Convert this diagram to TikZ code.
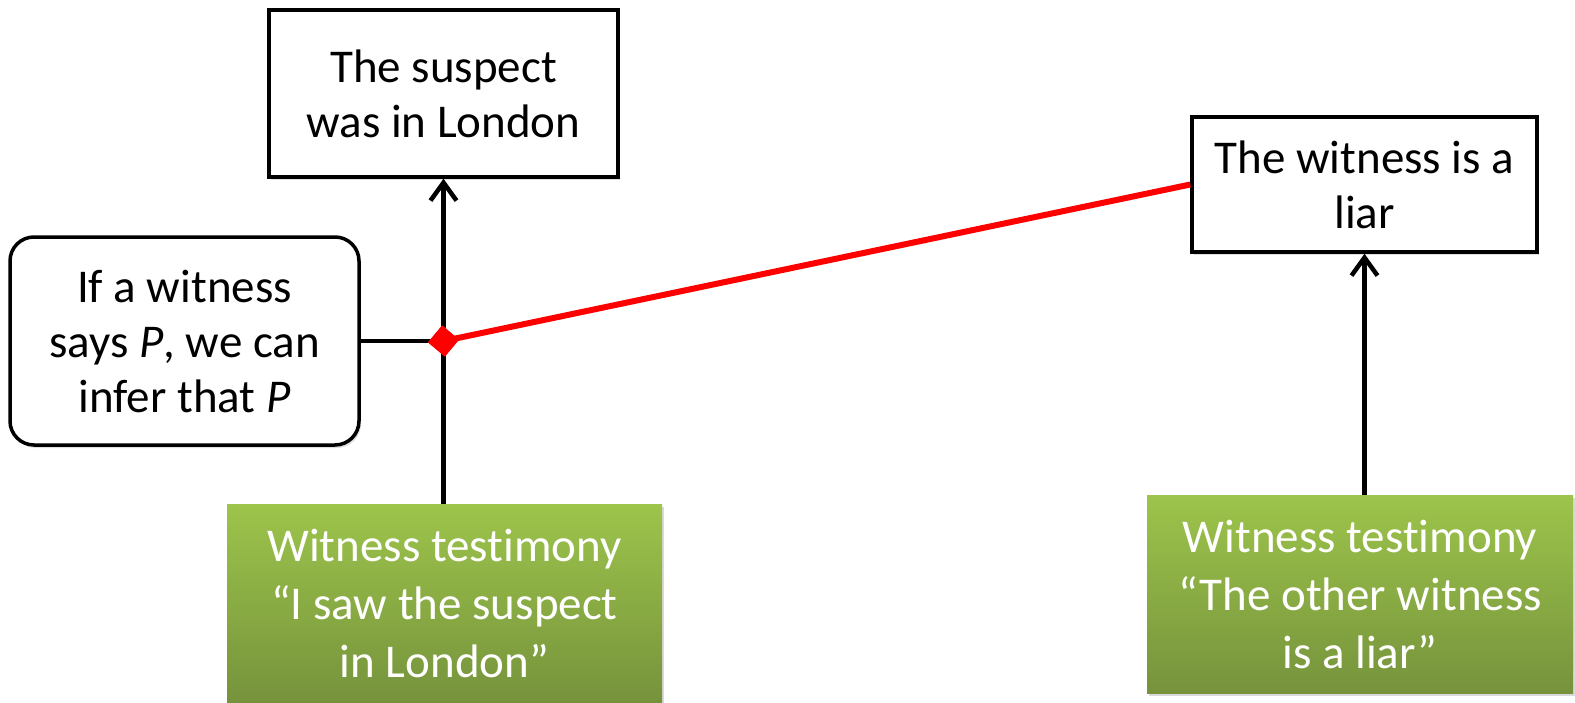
\documentclass[tikz,border=0pt]{standalone}
\usepackage{fontspec}
\setmainfont{Carlito}[Ligatures=NoCommon]
\usetikzlibrary{positioning, arrows.meta, shapes.geometric, shadows}

\definecolor{grasstop}{HTML}{9DC44B}
\definecolor{grassbot}{HTML}{76933C}
\definecolor{attackred}{HTML}{FF0000}

\begin{document}
\begin{tikzpicture}[
        x=1pt, y=-1pt,
        % Define common styles for the nodes and text
        claim/.style={draw, rectangle, line width=3.5pt, align=center, fill=white, inner sep=0pt,
            font=\fontsize{47}{55}\selectfont,
            drop shadow={shadow xshift=2pt, shadow yshift=-3pt, opacity=0.25}},
        rule/.style={claim, rounded corners=24pt},
        evidence/.style={rectangle, align=center, inner sep=0pt, text=white,
            top color=grasstop, bottom color=grassbot,
            font=\fontsize{47}{58}\selectfont,
            drop shadow={shadow xshift=2pt, shadow yshift=-3pt, opacity=0.3}},
        arrow/.style={-{Straight Barb[length=18pt, width=26pt]}, line width=4.5pt},
        attack/.style={attackred, line width=6pt},
        joint/.style={rectangle, fill=attackred, minimum size=22pt, inner sep=0pt, rotate=50}
    ]
    \useasboundingbox (0,0) rectangle (1575,702);

        % Define the nodes
        \node[claim, minimum width=349pt, minimum height=167pt] (suspect) at (443.5,93.5)
            {The suspect\\ was in London};

        \node[claim, minimum width=345pt, minimum height=135pt] (liar) at (1364.5,184.5)
            {The witness is a\\ liar};

        \node[rule, minimum width=349pt, minimum height=208pt] (warrant) at (184.5,341)
            {If a witness\\ says \textit{P}, we can\\ infer that \textit{P}};

        \node[evidence, minimum width=435pt, minimum height=198pt] (testA) at (444.5,603)
            {Witness testimony\\ “I saw the suspect\\ in London”};

        \node[evidence, minimum width=426pt, minimum height=198pt] (testB) at (1360,594)
            {Witness testimony\\ “The other witness\\ is a liar”};

        % Draw the arrows
        \draw[arrow] (testA.north -| suspect.south) -- (suspect.south);

        \draw[arrow] (testB.north -| liar.south) -- (liar.south);

        \draw[line width=3.5pt] (warrant.east) -- (suspect.south |- warrant.east);

        \node[joint] (undercut) at (suspect.south |- warrant.east) {};

        \draw[attack] (undercut.center) -- (liar.west);
        \node[joint] at (undercut) {};

    \end{tikzpicture}
\end{document}
